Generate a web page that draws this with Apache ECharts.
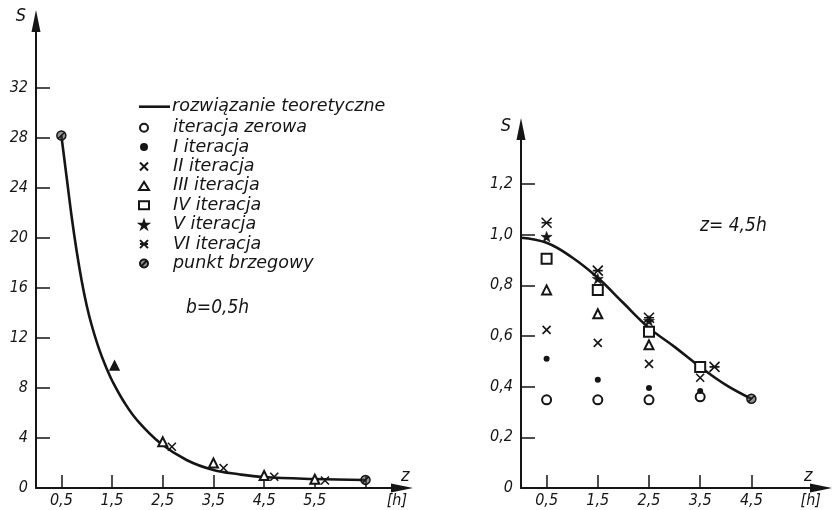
<!DOCTYPE html>
<html><head><meta charset="utf-8">
<script src="https://cdn.jsdelivr.net/npm/echarts@6/dist/echarts.min.js"></script>
<style>html,body{margin:0;padding:0;background:#fff}#c{width:834px;height:510px}</style>
</head><body><div id="c"></div>
<script>
// ---------- data ----------
// left chart: b = 0,5h
const leftTheoryZ = [0.5, 0.6, 0.7, 0.8, 0.9, 1.0, 1.1, 1.25, 1.4, 1.5, 1.75, 2.0, 2.45, 2.97, 3.5, 4.0, 4.48, 5.47, 6.5];
const leftTheoryS = [28.2, 25.0, 21.8, 19.0, 16.6, 14.6, 13.0, 11.05, 9.5, 8.6, 6.8, 5.4, 3.6, 2.24, 1.44, 1.1, 0.88, 0.72, 0.64];
const leftIIIZ = [1.55, 2.5, 3.5, 4.5, 5.5];
const leftIIIS = [9.8, 3.7, 2.0, 1.0, 0.7];
const leftIIZ = [2.68, 3.7, 4.7, 5.7];
const leftIIS = [3.3, 1.6, 0.9, 0.6];
const leftBoundZ = [0.5, 6.5];
const leftBoundS = [28.2, 0.65];
const leftTickZ = [0.5, 1.5, 2.5, 3.5, 4.5, 5.5, 6.5];
const leftLabelZ = [0.5, 1.5, 2.5, 3.5, 4.5, 5.5];
const leftTickS = [4, 8, 12, 16, 20, 24, 28, 32];
const leftLabelS = [0, 4, 8, 12, 16, 20, 24, 28, 32];

// right chart: z = 4,5h
const rightTheoryZ = [0, 0.5, 1.0, 1.5, 2.0, 2.5, 3.0, 3.5, 4.0, 4.5];
const rightTheoryS = [0.988, 0.968, 0.91, 0.83, 0.73, 0.632, 0.557, 0.478, 0.407, 0.352];
const zeroZ = [0.5, 1.5, 2.5, 3.5];  const zeroS = [0.348, 0.348, 0.348, 0.36];
const iZ = [0.5, 1.5, 2.5, 3.5];     const iS = [0.51, 0.427, 0.395, 0.383];
const iiZ = [0.5, 1.5, 2.5, 3.5];    const iiS = [0.624, 0.573, 0.49, 0.435];
const iiiZ = [0.5, 1.5, 2.5];        const iiiS = [0.782, 0.688, 0.565];
const ivZ = [0.5, 1.5, 2.5, 3.5];    const ivS = [0.905, 0.782, 0.617, 0.478];
const vZ = [0.5, 1.5, 2.5];          const vS = [0.992, 0.826, 0.66];
const viZ = [0.5, 1.5, 2.5, 3.78];   const viS = [1.047, 0.858, 0.672, 0.478];
const rightBoundZ = [4.5];           const rightBoundS = [0.352];
const rightTickZ = [0.5, 1.5, 2.5, 3.5, 4.5];
const rightLabelZ = [0.5, 1.5, 2.5, 3.5, 4.5];
const rightTickS = [0.2, 0.4, 0.6, 0.8, 1.0, 1.2];
const rightLabelS = [0, 0.2, 0.4, 0.6, 0.8, 1.0, 1.2];

const names = {
  theory: 'rozwiązanie teoretyczne',
  zero: 'iteracja zerowa',
  i: 'I iteracja',
  ii: 'II iteracja',
  iii: 'III iteracja',
  iv: 'IV iteracja',
  v: 'V iteracja',
  vi: 'VI iteracja',
  bound: 'punkt brzegowy'
};

// ---------- styling ----------
const INK = '#151515';
const FONT_AX = "'Liberation Sans Narrow','DejaVu Sans Condensed','Liberation Sans',sans-serif";
const FONT_LG = "'DejaVu Sans','Liberation Sans',sans-serif";
const pairs = (zs, ss) => zs.map((z, k) => [z, ss[k]]);

const SYM = {
  zero: {symbol: 'emptyCircle', symbolSize: 9, itemStyle: {color: INK, borderColor: INK, borderWidth: 1.4, opacity: 1}},
  i: {symbol: 'circle', symbolSize: 6, itemStyle: {color: INK, opacity: 1}},
  ii: {symbol: 'path://M0,0L10,10M10,0L0,10', symbolSize: 8, symbolKeepAspect: true,
       itemStyle: {color: 'rgba(0,0,0,0)', borderColor: INK, borderWidth: 1.6, opacity: 1}},
  iii: {symbol: 'emptyTriangle', symbolSize: 9, itemStyle: {color: INK, borderColor: INK, borderWidth: 1.4, opacity: 1}},
  iv: {symbol: 'emptyRect', symbolSize: 10, itemStyle: {color: INK, borderColor: INK, borderWidth: 1.5, opacity: 1}},
  v: {symbol: 'path://M5,0L6.2,3.6L10,3.6L6.9,5.9L8.1,9.6L5,7.3L1.9,9.6L3.1,5.9L0,3.6L3.8,3.6Z',
      symbolSize: 11, symbolKeepAspect: true, itemStyle: {color: INK, borderColor: INK, borderWidth: 0.6, opacity: 1}},
  vi: {symbol: 'path://M0,0L10,10M10,0L0,10M0,5L10,5', symbolSize: 10, symbolKeepAspect: true,
       itemStyle: {color: 'rgba(0,0,0,0)', borderColor: INK, borderWidth: 1.6, opacity: 1}},
  bound: {symbol: 'path://M10,5A5,5 0 1 1 0,5A5,5 0 1 1 10,5ZM1.6,8.4L8.4,1.6', symbolSize: 9, symbolKeepAspect: true,
          itemStyle: {color: 'rgba(60,60,60,0.55)', borderColor: INK, borderWidth: 1.5, opacity: 1}}
};

function scatter(key, zs, ss, gi, mapItem) {
  const data = pairs(zs, ss).map((p, k) => mapItem ? mapItem(p, k) : p);
  return Object.assign({type: 'scatter', name: names[key], xAxisIndex: gi, yAxisIndex: gi, data: data, z: 4}, SYM[key]);
}
function theory(zs, ss, gi) {
  return {type: 'line', name: names.theory, xAxisIndex: gi, yAxisIndex: gi, data: pairs(zs, ss),
    smooth: 0.4, symbol: 'none', lineStyle: {color: INK, width: 2.6},
    itemStyle: {color: INK}, z: 3};
}

const labelStyle = {fontStyle: 'italic', fontSize: 16, color: INK, fontFamily: FONT_AX};
const axisLine = {onZero: false, lineStyle: {color: INK, width: 2}, symbol: ['none', 'triangle'], symbolSize: [9, 22]};

function xAxis(gi, max, ticks, labels, hPos, nameGap) {
  return {
    gridIndex: gi, type: 'value', min: 0, max: max, splitLine: {show: false},
    axisLine: axisLine,
    axisTick: {inside: true, length: 13, customValues: ticks, lineStyle: {color: INK, width: 1.5}},
    axisLabel: Object.assign({customValues: labels.concat([hPos]), margin: 5,
      formatter: v => (Math.abs(v - hPos) < 1e-6 ? '[h]' : String(v).replace('.', ','))}, labelStyle),
    name: 'z', nameLocation: 'end', nameGap: nameGap,
    nameTextStyle: {fontStyle: 'italic', fontSize: 18, color: INK, fontFamily: FONT_AX,
      align: 'left', verticalAlign: 'bottom', padding: [0, 0, 3, 0]}
  };
}
function yAxis(gi, max, ticks, labels, fmt, nameGap) {
  return {
    gridIndex: gi, type: 'value', min: 0, max: max, splitLine: {show: false},
    axisLine: axisLine,
    axisTick: {inside: true, length: 14, customValues: ticks, lineStyle: {color: INK, width: 1.5}},
    axisLabel: Object.assign({customValues: labels, margin: 8, formatter: fmt}, labelStyle),
    name: 'S', nameLocation: 'end', nameGap: nameGap,
    nameTextStyle: {fontStyle: 'italic', fontSize: 18, color: INK, fontFamily: FONT_AX,
      align: 'right', verticalAlign: 'bottom', padding: [0, 10, 0, 0]}
  };
}

const option = {
  backgroundColor: '#fff',
  animation: false,
  grid: [
    {left: 36, right: 432, top: 21, bottom: 22},
    {left: 521, right: 13, top: 129, bottom: 22}
  ],
  xAxis: [
    xAxis(0, 7.22, leftTickZ, leftLabelZ, 7.12, -1),
    xAxis(1, 5.86, rightTickZ, rightLabelZ, 5.66, -17)
  ],
  yAxis: [
    yAxis(0, 37.36, leftTickS, leftLabelS, v => String(v), -4),
    yAxis(1, 1.417, rightTickS, rightLabelS, v => (v === 0 ? '0' : v.toFixed(1).replace('.', ',')), -6)
  ],
  legend: [
    {data: [{name: names.theory, icon: 'rect'}], orient: 'vertical', left: 139, top: 97, itemWidth: 31, itemHeight: 2.6,
     itemGap: 0, padding: 0, selectedMode: false, itemStyle: {color: INK, borderWidth: 0},
     textStyle: {fontStyle: 'italic', fontSize: 17.5, color: INK, fontFamily: FONT_LG, lineHeight: 19.4,
       padding: [0, 0, 0, -3]}},
    {data: [names.zero, names.i, names.ii, names.iii, names.iv, names.v, names.vi, names.bound],
     orient: 'vertical', left: 138, top: 118, itemWidth: 10, itemHeight: 8, itemGap: 0, padding: 0,
     selectedMode: false,
     textStyle: {fontStyle: 'italic', fontSize: 17.5, color: INK, fontFamily: FONT_LG, lineHeight: 19.4,
       padding: [0, 0, 0, 19]}}
  ],
  graphic: [
    {type: 'text', left: 186, top: 299, style: {text: 'b=0,5h', fontStyle: 'italic', fontSize: 19,
      fill: INK, fontFamily: FONT_AX}},
    {type: 'text', left: 700, top: 217, style: {text: 'z= 4,5h', fontStyle: 'italic', fontSize: 19,
      fill: INK, fontFamily: FONT_AX}}
  ],
  series: [
    theory(leftTheoryZ, leftTheoryS, 0),
    scatter('iii', leftIIIZ, leftIIIS, 0, (p, k) => (k === 0 ? {value: p, symbol: 'triangle', itemStyle: {color: INK}} : p)),
    scatter('ii', leftIIZ, leftIIS, 0),
    scatter('bound', leftBoundZ, leftBoundS, 0),
    theory(rightTheoryZ, rightTheoryS, 1),
    scatter('zero', zeroZ, zeroS, 1),
    scatter('i', iZ, iS, 1),
    scatter('ii', iiZ, iiS, 1),
    scatter('iii', iiiZ, iiiS, 1),
    scatter('iv', ivZ, ivS, 1),
    scatter('v', vZ, vS, 1),
    scatter('vi', viZ, viS, 1),
    scatter('bound', rightBoundZ, rightBoundS, 1)
  ]
};
const chart = echarts.init(document.getElementById('c'), null, {renderer: 'canvas'});
chart.setOption(option);
</script></body></html>
